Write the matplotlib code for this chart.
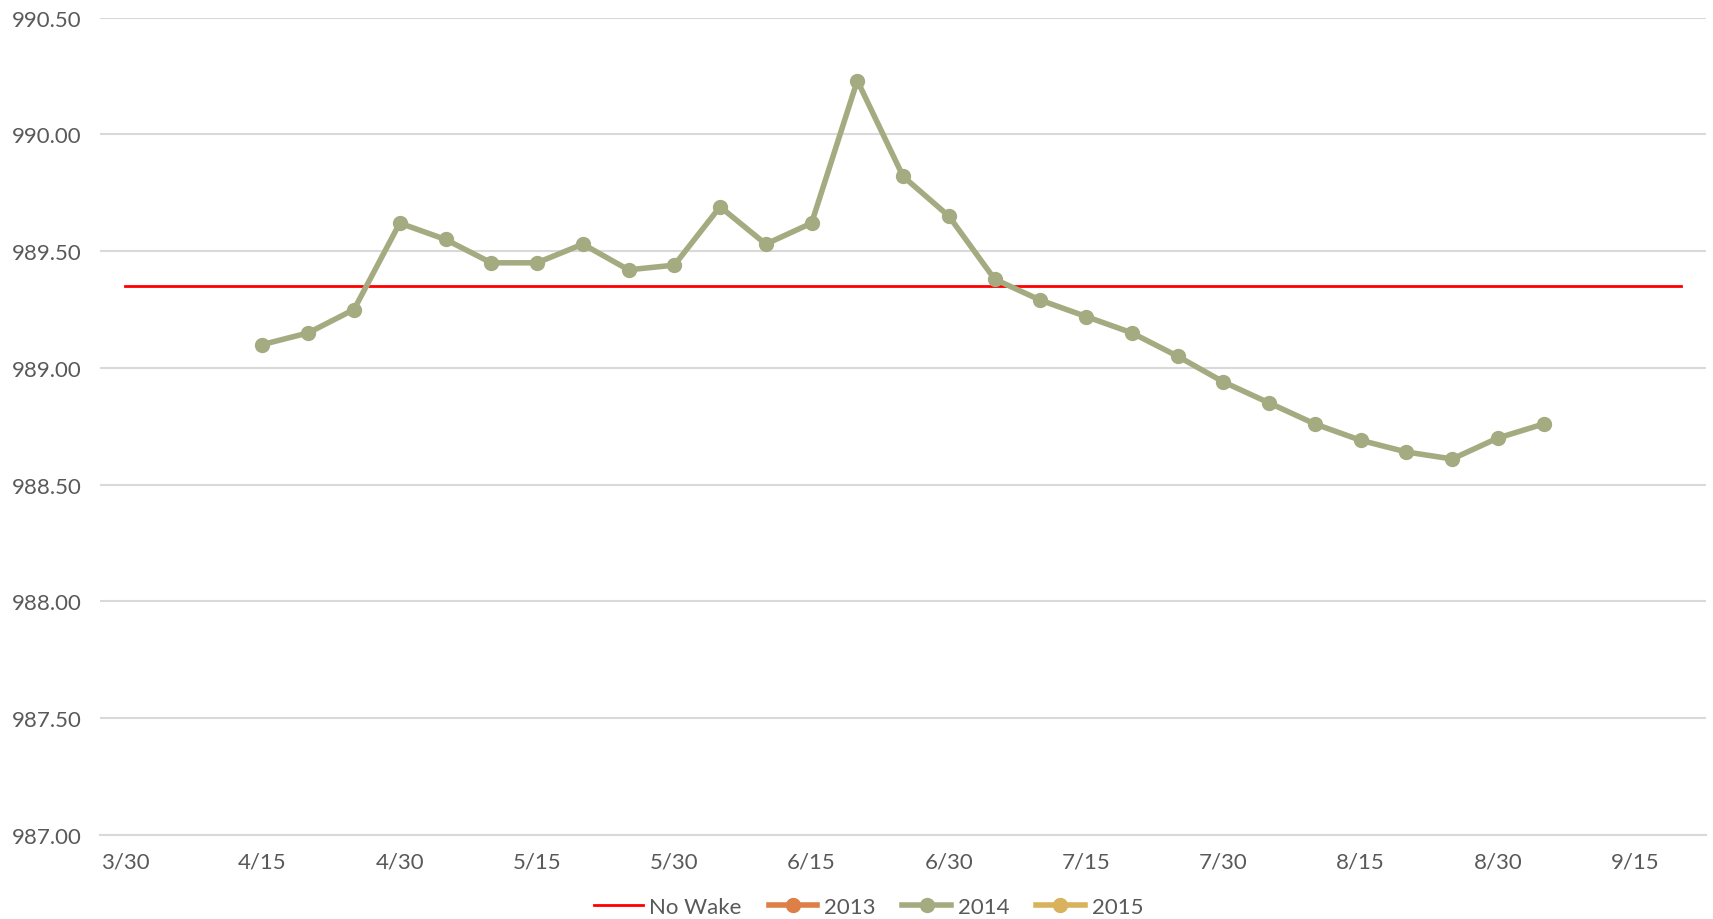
import numpy as np
import matplotlib
matplotlib.use("Agg")
import matplotlib.pyplot as plt

# categories every 5 days (5th, 10th, ... 30th of each month)
dates = ["3/30", "4/5", "4/10", "4/15", "4/20", "4/25", "4/30", "5/5", "5/10", "5/15",
         "5/20", "5/25", "5/30", "6/5", "6/10", "6/15", "6/20", "6/25", "6/30", "7/5",
         "7/10", "7/15", "7/20", "7/25", "7/30", "8/5", "8/10", "8/15", "8/20", "8/25",
         "8/30", "9/5", "9/10", "9/15", "9/20"]

no_wake = 989.35

# 2014 readings, 4/15 through 9/5
dates_2014 = dates[3:32]
level_2014 = [989.10, 989.15, 989.25, 989.62, 989.55, 989.45, 989.45, 989.53, 989.42, 989.44,
              989.69, 989.53, 989.62, 990.23, 989.82, 989.65, 989.38, 989.29, 989.22, 989.15,
              989.05, 988.94, 988.85, 988.76, 988.69, 988.64, 988.61, 988.70, 988.76]

# 2013 and 2015 have no values in the chart (legend only)
level_2013 = []
level_2015 = []

tick_labels = dates[::3]
y_ticks = [987.0, 987.5, 988.0, 988.5, 989.0, 989.5, 990.0, 990.5]

plt.rcParams['font.family'] = ['Lato', 'DejaVu Sans']
text_color = '#595959'

fig = plt.figure(figsize=(17.13, 9.2), dpi=100)
ax = fig.add_axes([0.0584, 0.0913, 0.9376, 0.8885])

x_all = np.arange(len(dates))
x_2014 = [dates.index(d) for d in dates_2014]

ax.plot(x_all, [no_wake] * len(dates), color='#FF0000', lw=2, label='No Wake', zorder=3)
ax.plot(level_2013, level_2013, color='#DD8047', lw=4, marker='o', ms=10, label='2013')
ax.plot(x_2014, level_2014, color='#A5AB81', lw=4, marker='o', ms=10, label='2014', zorder=4)
ax.plot(level_2015, level_2015, color='#D8B25C', lw=4, marker='o', ms=10, label='2015')

ax.set_xlim(-0.55, len(dates) - 0.45)
ax.set_ylim(987.0, 990.5)
ax.set_yticks(y_ticks)
ax.set_yticklabels([f"{v:.2f}" for v in y_ticks])
ax.set_xticks(x_all[::3])
ax.set_xticklabels(tick_labels)

ax.grid(axis='y', color='#D9D9D9', lw=1.5)
ax.set_axisbelow(True)
for s in ['top', 'right', 'left']:
    ax.spines[s].set_visible(False)
ax.spines['bottom'].set_color('#D9D9D9')
ax.spines['bottom'].set_linewidth(1.5)
ax.tick_params(axis='both', length=0, labelsize=16, colors=text_color)
ax.tick_params(axis='y', pad=13)
ax.tick_params(axis='x', pad=12)

fig.legend(loc='center', bbox_to_anchor=(0.507, 0.013), ncol=4, frameon=False,
           fontsize=16, labelcolor=text_color, handlelength=2.2, handletextpad=0.3,
           columnspacing=1.2)

fig.savefig('out.png', dpi=100)
